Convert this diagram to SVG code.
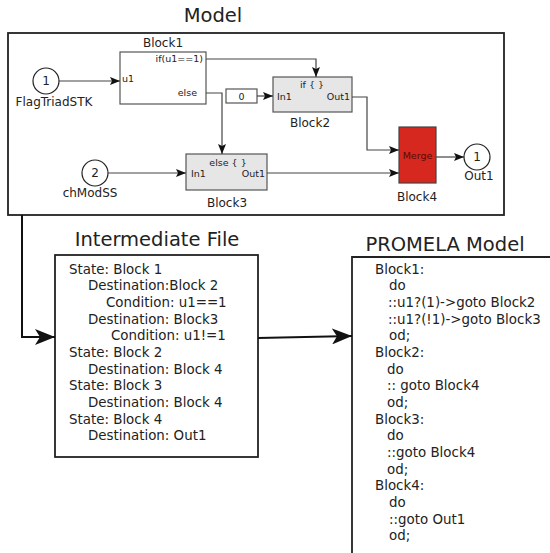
<svg xmlns="http://www.w3.org/2000/svg" width="550" height="553" viewBox="0 0 550 553">
  <style>
    text { font-family: "DejaVu Sans", Verdana, sans-serif; fill: #222; }
    .title { font-size: 19.5px; }
    .lbl { font-size: 12px; }
    .port { font-size: 9.5px; }
    .body { font-size: 13.4px; }
    .frame { fill: #fff; stroke: #222; stroke-width: 1.8; }
    .blk { fill: #fff; stroke: #555; stroke-width: 1.2; }
    .sub { fill: #e6e6e6; stroke: #555; stroke-width: 1.2; }
    .io { fill: #fff; stroke: #222; stroke-width: 1.2; }
    .sig { fill: none; stroke: #444; stroke-width: 1.2; }
    .flow { fill: none; stroke: #111; stroke-width: 2; }
  </style>
  <defs>
    <marker id="sm" viewBox="0 0 10 8" refX="10" refY="4" markerWidth="10" markerHeight="8" markerUnits="userSpaceOnUse" orient="auto">
      <path d="M0,0 L10,4 L0,8 L2,4 Z" fill="#111"/>
    </marker>
    <marker id="big" viewBox="0 0 20 16" refX="20" refY="8" markerWidth="20" markerHeight="16" markerUnits="userSpaceOnUse" orient="auto">
      <path d="M0,0 L20,8 L0,16 L5,8 Z" fill="#111"/>
    </marker>
  </defs>

  <!-- Model frame -->
  <g id="model">
    <rect class="frame" x="8" y="33" width="496" height="182"/>
    <text class="title" x="213" y="22" text-anchor="middle">Model</text>
  </g>

  <g id="in1">
    <circle class="io" cx="46" cy="81" r="13"/>
    <text class="lbl" x="46" y="85" text-anchor="middle">1</text>
    <text class="lbl" x="54" y="106" text-anchor="middle">FlagTriadSTK</text>
  </g>

  <g id="in2">
    <circle class="io" cx="95" cy="173" r="13"/>
    <text class="lbl" x="95" y="177" text-anchor="middle">2</text>
    <text class="lbl" x="90" y="197" text-anchor="middle">chModSS</text>
  </g>

  <g id="block1">
    <rect class="blk" x="120" y="52" width="86" height="52"/>
    <text class="lbl" x="163" y="47" text-anchor="middle">Block1</text>
    <text class="port" x="203" y="62" text-anchor="end">if(u1==1)</text>
    <text class="port" x="122" y="82">u1</text>
    <text class="port" x="197" y="96" text-anchor="end">else</text>
  </g>

  <g id="const0">
    <rect class="blk" x="226" y="89" width="31" height="14"/>
    <text class="port" x="241.5" y="100" text-anchor="middle">0</text>
  </g>

  <g id="block2">
    <rect class="sub" x="273" y="77" width="79" height="35"/>
    <text class="port" x="312" y="88" text-anchor="middle">if { }</text>
    <text class="port" x="277" y="100">In1</text>
    <text class="port" x="350" y="100" text-anchor="end">Out1</text>
    <text class="lbl" x="310" y="127" text-anchor="middle">Block2</text>
  </g>

  <g id="block3">
    <rect class="sub" x="186" y="154" width="81" height="36"/>
    <text class="port" x="228" y="166" text-anchor="middle">else { }</text>
    <text class="port" x="191" y="177">In1</text>
    <text class="port" x="265" y="177" text-anchor="end">Out1</text>
    <text class="lbl" x="227" y="207" text-anchor="middle">Block3</text>
  </g>

  <g id="block4">
    <rect x="399" y="127" width="37" height="56" fill="#d6281e" stroke="#444" stroke-width="1.2"/>
    <text class="port" x="417.5" y="159" text-anchor="middle" style="fill:#5a0a05">Merge</text>
    <text class="lbl" x="417" y="201" text-anchor="middle">Block4</text>
  </g>

  <g id="out1">
    <circle class="io" cx="477" cy="157" r="13"/>
    <text class="lbl" x="477" y="161" text-anchor="middle">1</text>
    <text class="lbl" x="479" y="180" text-anchor="middle">Out1</text>
  </g>

  <!-- Intermediate file -->
  <g id="intermediate">
    <rect class="frame" x="55" y="255" width="203" height="202"/>
    <text class="title" x="157" y="246" text-anchor="middle">Intermediate File</text>
    <text class="body" x="69" y="274">State: Block 1</text>
    <text class="body" x="88" y="290">Destination:Block 2</text>
    <text class="body" x="106" y="307">Condition: u1==1</text>
    <text class="body" x="88" y="324">Destination: Block3</text>
    <text class="body" x="111" y="340">Condition: u1!=1</text>
    <text class="body" x="69" y="357">State: Block 2</text>
    <text class="body" x="88" y="374">Destination: Block 4</text>
    <text class="body" x="69" y="390">State: Block 3</text>
    <text class="body" x="88" y="407">Destination: Block 4</text>
    <text class="body" x="69" y="424">State: Block 4</text>
    <text class="body" x="88" y="440">Destination: Out1</text>
  </g>

  <!-- PROMELA model -->
  <g id="promela">
    <path class="frame" d="M352,560 L352,257 L560,257" style="fill:none"/>
    <text class="title" x="445" y="251" text-anchor="middle">PROMELA Model</text>
    <text class="body" x="375" y="274">Block1:</text>
    <text class="body" x="389" y="290">do</text>
    <text class="body" x="388" y="307">::u1?(1)-&gt;goto Block2</text>
    <text class="body" x="388" y="324">::u1?(!1)-&gt;goto Block3</text>
    <text class="body" x="389" y="340">od;</text>
    <text class="body" x="375" y="357">Block2:</text>
    <text class="body" x="387" y="374">do</text>
    <text class="body" x="387" y="390">:: goto Block4</text>
    <text class="body" x="387" y="407">od;</text>
    <text class="body" x="375" y="424">Block3:</text>
    <text class="body" x="387" y="440">do</text>
    <text class="body" x="387" y="457">::goto Block4</text>
    <text class="body" x="387" y="474">od;</text>
    <text class="body" x="375" y="490">Block4:</text>
    <text class="body" x="389" y="507">do</text>
    <text class="body" x="389" y="524">::goto Out1</text>
    <text class="body" x="389" y="540">od;</text>
  </g>

  <!-- connectors -->
  <g id="connectors">
    <path class="sig" d="M59,81 L120,81" marker-end="url(#sm)"/>
    <path class="sig" d="M206,59 L316,59 L316,77" marker-end="url(#sm)"/>
    <path class="sig" d="M206,93 L222,93 L222,154" marker-end="url(#sm)"/>
    <path class="sig" d="M257,96 L273,96" marker-end="url(#sm)"/>
    <path class="sig" d="M108,173 L186,173" marker-end="url(#sm)"/>
    <path class="sig" d="M352,97 L367,97 L367,150 L399,150" marker-end="url(#sm)"/>
    <path class="sig" d="M267,173 L399,173" marker-end="url(#sm)"/>
    <path class="sig" d="M436,157 L464,157" marker-end="url(#sm)"/>
    <path class="flow" d="M22,215 L22,337 L55,337" marker-end="url(#big)"/>
    <path class="flow" d="M258,338 L352,336" marker-end="url(#big)"/>
  </g>
</svg>
